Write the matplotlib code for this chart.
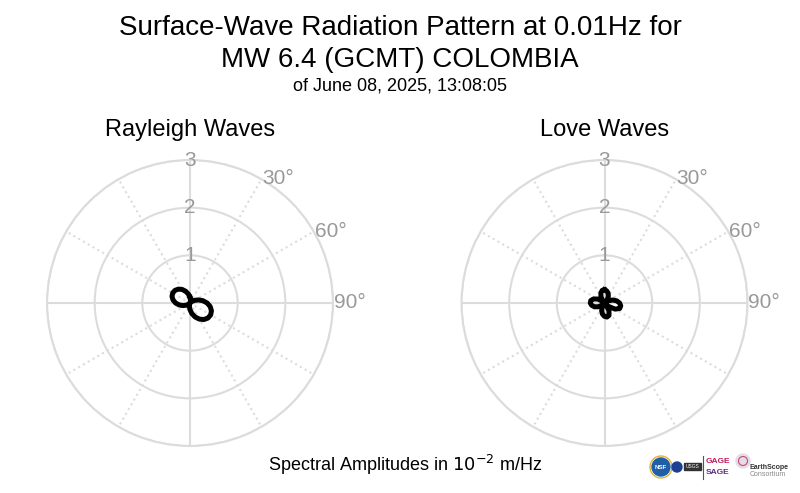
"""Surface-wave radiation pattern (Rayleigh / Love) for the Colombia event."""

import numpy as np
from matplotlib import pyplot as plt
from matplotlib.patches import Circle, Rectangle

plt.rcParams['font.family'] = ['Liberation Sans', 'DejaVu Sans']

# Azimuths (degrees clockwise from north) at which amplitudes were read
azimuths = list(range(0, 360, 10))

# Spectral amplitudes in 1e-2 m/Hz
rayleigh_amp = [0.118, 0.059, 0.018, 0.000, 0.010, 0.048, 0.110, 0.190, 0.276, 0.360,
                0.430, 0.479, 0.500, 0.491, 0.453, 0.390, 0.311, 0.224, 0.141, 0.070,
                0.022, 0.001, 0.008, 0.040, 0.092, 0.159, 0.232, 0.302, 0.361, 0.402,
                0.420, 0.412, 0.380, 0.328, 0.261, 0.188]
love_amp = [0.279, 0.260, 0.220, 0.161, 0.088, 0.008, 0.091, 0.184, 0.261, 0.317,
            0.346, 0.339, 0.256, 0.112, 0.052, 0.187, 0.276, 0.299, 0.281, 0.238,
            0.175, 0.096, 0.009, 0.079, 0.160, 0.227, 0.274, 0.298, 0.292, 0.247,
            0.166, 0.062, 0.048, 0.146, 0.224, 0.270]

panel_titles = ['Rayleigh Waves', 'Love Waves']
r_ticks = [1, 2, 3]
theta_labels = [30, 60, 90]

GRID = '#dcdcdc'
LABEL = '#999999'

fig = plt.figure(figsize=(8, 4.93), dpi=100)

fig.text(0.5, 1 - 28 / 493, 'Surface-Wave Radiation Pattern at 0.01Hz for',
         ha='center', va='center', fontsize=20)
fig.text(0.5, 1 - 60 / 493, 'MW 6.4 (GCMT) COLOMBIA',
         ha='center', va='center', fontsize=20)
fig.text(0.5, 1 - 86 / 493, 'of June 08, 2025, 13:08:05',
         ha='center', va='center', fontsize=13)

centers = [190, 604.5]
radius_px = 143
for cx, title, amps in zip(centers, panel_titles, [rayleigh_amp, love_amp]):
    ax = fig.add_axes([(cx - radius_px) / 800, (493 - 303 - radius_px) / 493,
                       2 * radius_px / 800, 2 * radius_px / 493], projection='polar')
    ax.set_theta_zero_location('N')
    ax.set_theta_direction(-1)

    theta = np.deg2rad(np.append(azimuths, azimuths[0]))
    r = np.append(amps, amps[0])
    ax.plot(theta, r, color='black', linewidth=3.6, solid_joinstyle='round', zorder=5)

    ax.set_ylim(0, 3)
    ax.set_yticks(r_ticks)
    ax.set_yticklabels([])
    ax.set_xticks(np.deg2rad(np.arange(0, 360, 30)))
    ax.set_xticklabels([])
    ax.grid(True, color=GRID, linewidth=1.5)
    for i, gl in enumerate(ax.xaxis.get_gridlines()):
        if i % 3:
            gl.set_linestyle(':')
    ax.spines['polar'].set_color(GRID)
    ax.spines['polar'].set_linewidth(1.5)
    ax.tick_params(length=0)

    for rt in r_ticks:
        ax.text(0, rt, str(rt), ha='center', va='center', color=LABEL, fontsize=15)
    for a in theta_labels:
        ax.text(np.deg2rad(a), 3.02, f'{a}°', ha='left', va='center',
                color=LABEL, fontsize=15)

    fig.text(cx / 800, 1 - 130 / 493, title, ha='center', va='center', fontsize=17)

fig.text(405 / 800, 1 - 465 / 493, 'Spectral Amplitudes in $10^{-2}$ m/Hz',
         ha='center', va='center', fontsize=13)

# rough stand-ins for the sponsor logos in the corner
logo = fig.add_axes([640 / 800, 0, 160 / 800, 48 / 493])
logo.set_xlim(640, 800)
logo.set_ylim(493, 445)
logo.axis('off')
logo.add_patch(Circle((661, 467), 9, color='#1f5fa8'))
logo.add_patch(Circle((661, 467), 11, fill=False, color='#e0b23c', linewidth=1))
logo.text(661, 467, 'NSF', color='white', fontsize=4.5, ha='center', va='center',
          fontweight='bold')
logo.add_patch(Circle((677, 467), 5, color='#1c3f94'))
logo.add_patch(Rectangle((684, 463), 17, 7, color='#333333'))
logo.text(692.5, 466.5, 'USGS', color='white', fontsize=3.5, ha='center', va='center')
logo.plot([703, 703], [456, 479], color='#555555', linewidth=0.8)
logo.text(706, 461, 'GAGE', color='#c2185b', fontsize=6, ha='left', va='center',
          fontweight='bold')
logo.text(706, 472, 'SAGE', color='#5e2a84', fontsize=6, ha='left', va='center',
          fontweight='bold')
logo.add_patch(Circle((743, 461), 7, color='#e6dbe8'))
logo.add_patch(Circle((743, 461), 4.5, fill=False, color='#c44d6e', linewidth=0.8))
logo.text(750, 467, 'EarthScope', color='#333333', fontsize=5, ha='left', va='center',
          fontweight='bold')
logo.text(750, 474, 'Consortium', color='#888888', fontsize=5, ha='left', va='center')

fig.savefig('out.png', dpi=100)
